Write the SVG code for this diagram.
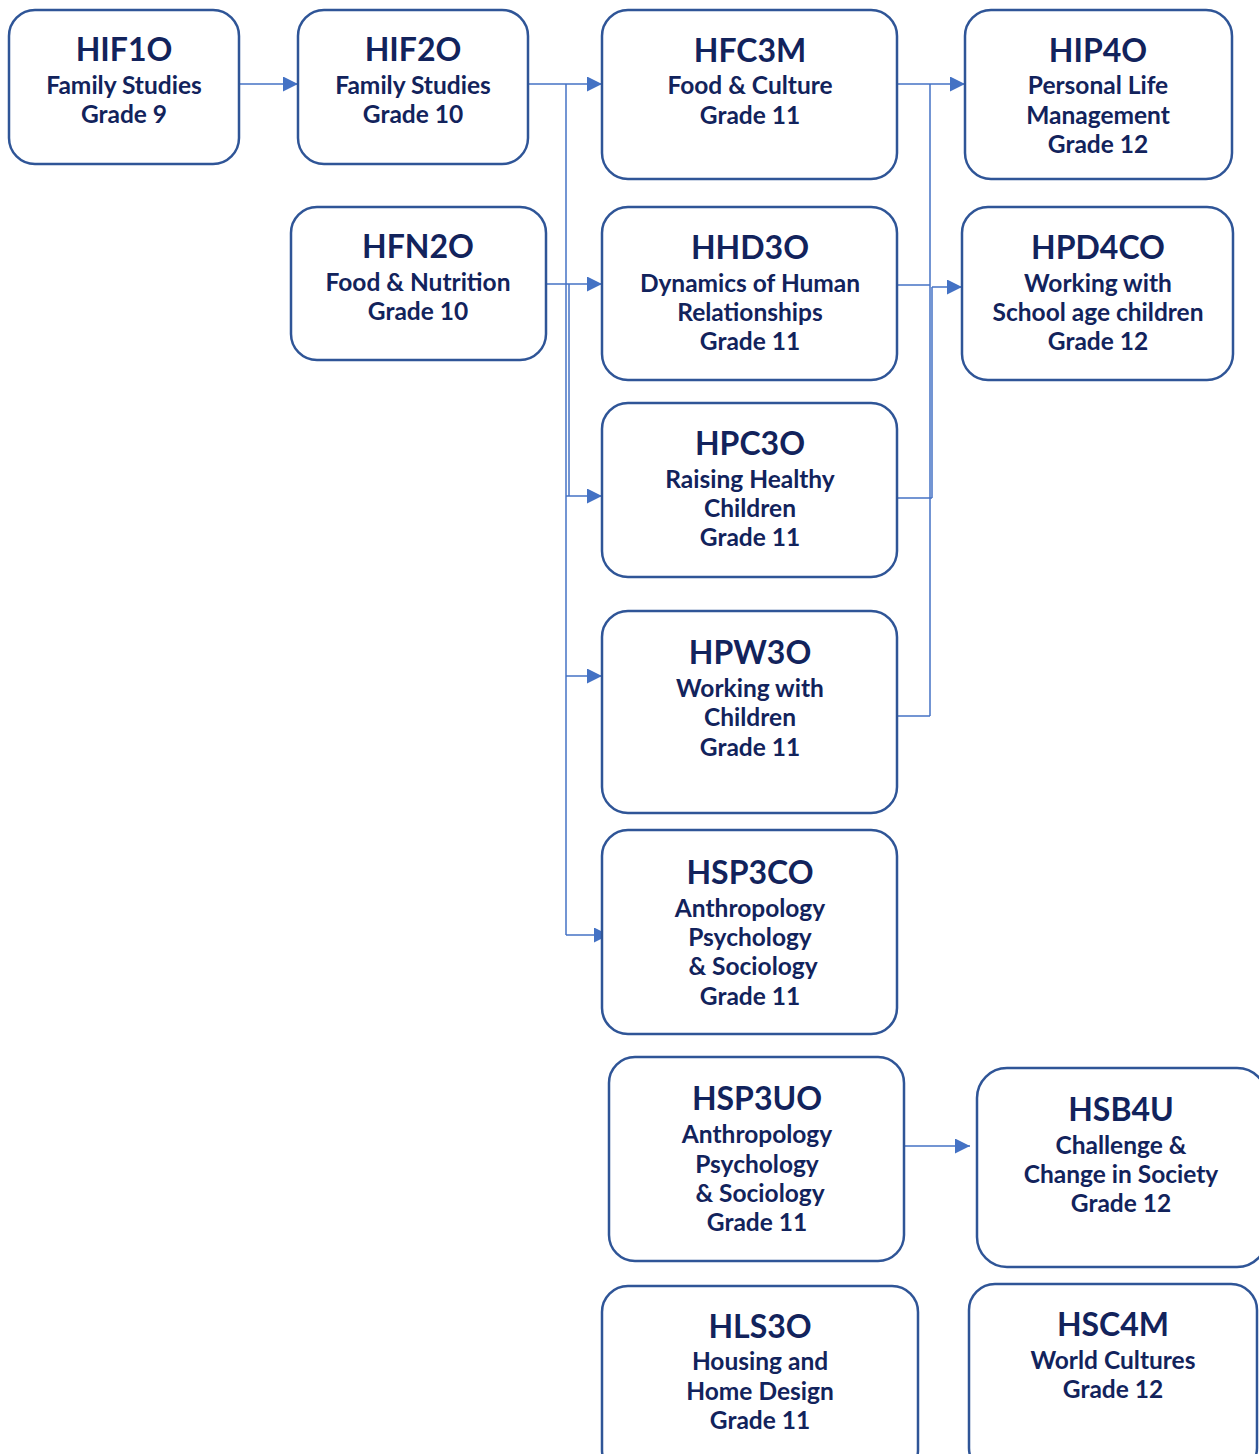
<svg xmlns="http://www.w3.org/2000/svg" width="1259" height="1454" viewBox="0 0 1259 1454">
<style>
.box{fill:#ffffff;stroke:#2f5597;stroke-width:2.5}
.t{font-family:Lato,"Noto Sans",sans-serif;fill:#12235c;text-anchor:middle;font-weight:700}
.h{font-size:32px}
.s{font-size:24.5px}
.c{fill:none;stroke:#4472c4;stroke-width:1.5}
</style>
<defs>
<marker id="ar" viewBox="0 0 15 15" refX="15" refY="7.5" markerWidth="15" markerHeight="15" markerUnits="userSpaceOnUse" orient="auto">
<path d="M0,0 L15,7.5 L0,15 Z" fill="#4472c4"/>
</marker>
</defs>
<rect width="1259" height="1454" fill="#ffffff"/>
<g id="connectors">
<line class="c" x1="239" y1="84" x2="298" y2="84" marker-end="url(#ar)"/>
<line class="c" x1="528" y1="84" x2="602" y2="84" marker-end="url(#ar)"/>
<line class="c" x1="566" y1="84" x2="566" y2="935"/>
<line class="c" x1="569" y1="284" x2="569" y2="496"/>
<line class="c" x1="537" y1="284" x2="602" y2="284" marker-end="url(#ar)"/>
<line class="c" x1="566" y1="496" x2="602" y2="496" marker-end="url(#ar)"/>
<line class="c" x1="566" y1="676" x2="602" y2="676" marker-end="url(#ar)"/>
<line class="c" x1="566" y1="935" x2="609" y2="935" marker-end="url(#ar)"/>
<line class="c" x1="897" y1="84" x2="965" y2="84" marker-end="url(#ar)"/>
<line class="c" x1="930" y1="84" x2="930" y2="716"/>
<line class="c" x1="897" y1="285" x2="930" y2="285"/>
<line class="c" x1="932" y1="287" x2="932" y2="498"/>
<line class="c" x1="932" y1="287" x2="962" y2="287" marker-end="url(#ar)"/>
<line class="c" x1="897" y1="498" x2="932" y2="498"/>
<line class="c" x1="897" y1="716" x2="930" y2="716"/>
<line class="c" x1="904" y1="1146" x2="970" y2="1146" marker-end="url(#ar)"/>
</g>
<g id="HIF1O">
<rect class="box" x="9" y="10" width="230" height="154" rx="26"/>
<text class="t h" x="124" y="61">HIF1O</text>
<text class="t s" x="124" y="94">Family Studies</text>
<text class="t s" x="124" y="123">Grade 9</text>
</g>
<g id="HIF2O">
<rect class="box" x="298" y="10" width="230" height="154" rx="26"/>
<text class="t h" x="413" y="61">HIF2O</text>
<text class="t s" x="413" y="94">Family Studies</text>
<text class="t s" x="413" y="123">Grade 10</text>
</g>
<g id="HFC3M">
<rect class="box" x="602" y="10" width="295" height="169" rx="26"/>
<text class="t h" x="750" y="62">HFC3M</text>
<text class="t s" x="750" y="94">Food &amp; Culture</text>
<text class="t s" x="750" y="124">Grade 11</text>
</g>
<g id="HIP4O">
<rect class="box" x="965" y="10" width="267" height="169" rx="26"/>
<text class="t h" x="1098" y="62">HIP4O</text>
<text class="t s" x="1098" y="94">Personal Life</text>
<text class="t s" x="1098" y="124">Management</text>
<text class="t s" x="1098" y="153">Grade 12</text>
</g>
<g id="HFN2O">
<rect class="box" x="291" y="207" width="255" height="153" rx="26"/>
<text class="t h" x="418" y="258">HFN2O</text>
<text class="t s" x="418" y="291">Food &amp; Nutrition</text>
<text class="t s" x="418" y="320">Grade 10</text>
</g>
<g id="HHD3O">
<rect class="box" x="602" y="207" width="295" height="173" rx="26"/>
<text class="t h" x="750" y="259">HHD3O</text>
<text class="t s" x="750" y="292">Dynamics of Human</text>
<text class="t s" x="750" y="321">Relationships</text>
<text class="t s" x="750" y="350">Grade 11</text>
</g>
<g id="HPD4CO">
<rect class="box" x="962" y="207" width="271" height="173" rx="26"/>
<text class="t h" x="1098" y="259">HPD4CO</text>
<text class="t s" x="1098" y="292">Working with</text>
<text class="t s" x="1098" y="321">School age children</text>
<text class="t s" x="1098" y="350">Grade 12</text>
</g>
<g id="HPC3O">
<rect class="box" x="602" y="403" width="295" height="174" rx="26"/>
<text class="t h" x="750" y="455">HPC3O</text>
<text class="t s" x="750" y="488">Raising Healthy</text>
<text class="t s" x="750" y="517">Children</text>
<text class="t s" x="750" y="546">Grade 11</text>
</g>
<g id="HPW3O">
<rect class="box" x="602" y="611" width="295" height="202" rx="26"/>
<text class="t h" x="750" y="664">HPW3O</text>
<text class="t s" x="750" y="697">Working with</text>
<text class="t s" x="750" y="726">Children</text>
<text class="t s" x="750" y="756">Grade 11</text>
</g>
<g id="HSP3CO">
<rect class="box" x="602" y="830" width="295" height="204" rx="26"/>
<text class="t h" x="750" y="884">HSP3CO</text>
<text class="t s" x="750" y="917">Anthropology</text>
<text class="t s" x="750" y="946">Psychology</text>
<text class="t s" x="753" y="975">&amp; Sociology</text>
<text class="t s" x="750" y="1005">Grade 11</text>
</g>
<g id="HSP3UO">
<rect class="box" x="609" y="1057" width="295" height="204" rx="26"/>
<text class="t h" x="757" y="1110">HSP3UO</text>
<text class="t s" x="757" y="1143">Anthropology</text>
<text class="t s" x="757" y="1173">Psychology</text>
<text class="t s" x="760" y="1202">&amp; Sociology</text>
<text class="t s" x="757" y="1231">Grade 11</text>
</g>
<g id="HSB4U">
<rect class="box" x="977" y="1068" width="290" height="199" rx="30"/>
<text class="t h" x="1121" y="1121">HSB4U</text>
<text class="t s" x="1121" y="1154">Challenge &amp;</text>
<text class="t s" x="1121" y="1183">Change in Society</text>
<text class="t s" x="1121" y="1212">Grade 12</text>
</g>
<g id="HLS3O">
<rect class="box" x="602" y="1286" width="316" height="190" rx="26"/>
<text class="t h" x="760" y="1338">HLS3O</text>
<text class="t s" x="760" y="1370">Housing and</text>
<text class="t s" x="760" y="1400">Home Design</text>
<text class="t s" x="760" y="1429">Grade 11</text>
</g>
<g id="HSC4M">
<rect class="box" x="969" y="1284" width="288" height="190" rx="26"/>
<text class="t h" x="1113" y="1336">HSC4M</text>
<text class="t s" x="1113" y="1369">World Cultures</text>
<text class="t s" x="1113" y="1398">Grade 12</text>
</g>
</svg>
